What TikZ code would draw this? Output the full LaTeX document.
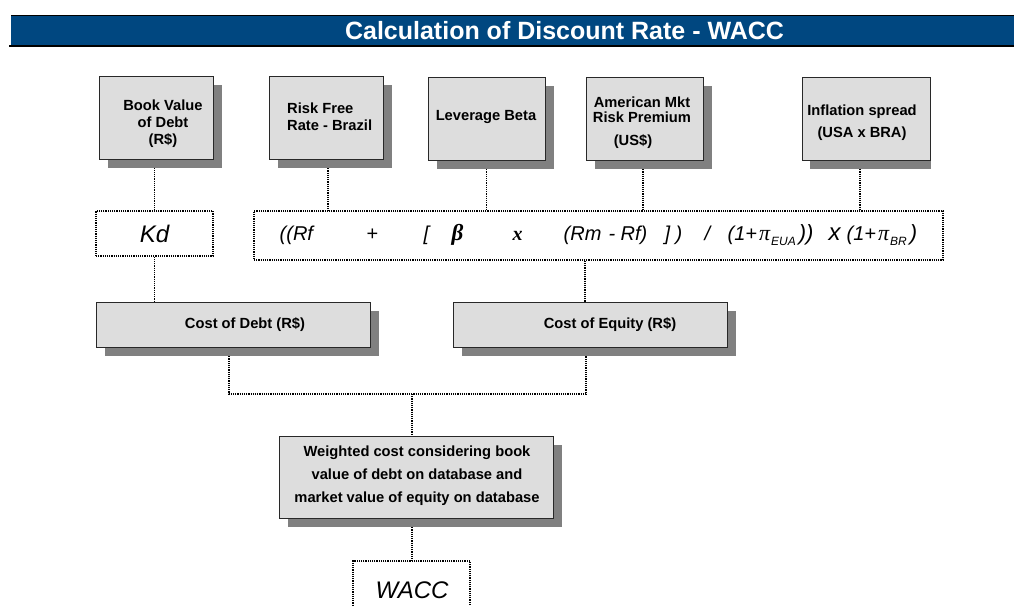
\documentclass[tikz,border=0pt]{standalone}
\usepackage{fontspec}
\setmainfont{Liberation Sans}
\newfontfamily\serifF{Liberation Serif}
\usetikzlibrary{shadows}
\pgfdeclarelayer{bg}
\pgfsetlayers{bg,main}
\definecolor{hdrblue}{RGB}{0,71,128}
\definecolor{boxfill}{RGB}{221,221,221}
\definecolor{boxline}{RGB}{40,40,40}
\definecolor{shadowgray}{RGB}{128,128,128}
\newcommand\fp[2]{\rlap{\hspace*{#1pt}#2}}
\tikzset{
  plainbox/.style={draw=boxline, fill=boxfill, line width=0.9pt, inner sep=0pt},
  box/.style={plainbox, drop shadow={shadow xshift=8.5pt, shadow yshift=-9pt, fill=shadowgray, opacity=1}},
  dotbox/.style={draw=black, line width=1.2pt, dash pattern=on 1.2pt off 1pt, inner sep=0pt},
  conn/.style={draw=black, line width=1.2pt, dash pattern=on 1.2pt off 1pt},
  lbl/.style={font=\fontsize{14.7}{17}\selectfont\bfseries, align=center, inner sep=0pt},
  ital/.style={font=\fontsize{24}{28}\selectfont\itshape, inner sep=0pt},
}
\begin{document}
\begin{tikzpicture}[x=1pt,y=-1pt]
\useasboundingbox (0,0) rectangle (1014,605);
\clip (0,0) rectangle (1014,605);

% header
\fill[hdrblue] (11,16) rectangle (1014,45);
\draw[line width=1pt] (11,15.5) -- (1014,15.5);
\draw[line width=2pt] (9,46) -- (1014,46);
\node[font=\fontsize{25}{30}\selectfont\bfseries, text=white, anchor=base, inner sep=0pt] (title) at (564.5,39.5) {Calculation of Discount Rate - WACC};

% top input boxes
\node[box, minimum width=114, minimum height=83] (bv) at (156,117.5) {};
\node[lbl] (bvt) at (163,124) {Book Value\\of Debt\\(R\$)};
\node[box, minimum width=114, minimum height=83] (rf) at (326,117.5) {};
\node[lbl, align=left, anchor=west] (rft) at (287,117) {Risk Free\\Rate - Brazil};
\node[box, minimum width=117, minimum height=83] (lb) at (486.5,118.5) {};
\node[lbl] (lbt) at (486,117) {Leverage Beta};
\node[box, minimum width=117, minimum height=83] (am) at (644.5,118.5) {};
\node[lbl, font=\fontsize{14.7}{15}\selectfont\bfseries] (amt) at (642,109.5) {American Mkt\\Risk Premium};
\node[lbl] (amu) at (633,142) {(US\$)};
\node[plainbox, minimum width=128, minimum height=83] (inf) at (866,118.5) {};
\node[lbl, font=\fontsize{14.7}{22}\selectfont\bfseries] (inft) at (862,123) {Inflation spread\\(USA x BRA)};

% second row
\node[dotbox, minimum width=117, minimum height=45, ital] (kd) at (154.5,233.5) {Kd};
\node[dotbox, minimum width=689, minimum height=49] (fm) at (598.5,235.5) {};
\node[anchor=base west, inner sep=0pt, font=\fontsize{20}{24}\selectfont\itshape] (fmt) at (279,240) {%
\fp{0}{((Rf}%
\fp{87}{\upshape +}%
\fp{144}{[}%
\fp{172}{{\serifF\bfseries\itshape\fontsize{23}{24}\selectfont β}}%
\fp{233}{{\serifF\bfseries\itshape x}}%
\fp{284}{(Rm\hspace{1.5pt} - Rf)}%
\fp{385}{]}%
\fp{396}{)}%
\fp{425}{/}%
\fp{448}{(1+\hspace{2pt}{\serifF\fontsize{22}{24}\selectfont π}\hspace{1pt}\raisebox{-5pt}{\fontsize{12}{14}\selectfont EUA}\hspace{3pt}{\fontsize{22}{24}\selectfont ))}}%
\fp{549}{{\fontsize{24}{28}\selectfont x}}%
\fp{567}{(1+\hspace{2pt}{\serifF\fontsize{22}{24}\selectfont π}\hspace{1pt}\raisebox{-5pt}{\fontsize{12}{14}\selectfont BR}\hspace{3pt}{\fontsize{22}{24}\selectfont )}}%
};

% third row
\node[box, minimum width=274, minimum height=45] (cod) at (233,324.5) {};
\node[lbl] (codt) at (245,325) {Cost of Debt (R\$)};
\node[box, minimum width=274, minimum height=45] (coe) at (590,324.5) {};
\node[lbl] (coet) at (610,325) {Cost of Equity (R\$)};

% weighted
\node[box, minimum width=274, minimum height=82] (wc) at (416,477) {};
\node[lbl, font=\fontsize{14.7}{23}\selectfont\bfseries] (wct) at (417,476) {Weighted cost considering book\\value of debt on database and\\market value of equity on database};

% WACC
\node[dotbox, minimum width=117, minimum height=70] (wacc) at (411.5,596) {};
\node[ital] (wacct) at (412,590) {WACC};

\coordinate (jn) at (412,394);

\begin{pgfonlayer}{bg}
\draw[conn] (kd.north) -- (kd.north |- bv.south);
\draw[conn] ([xshift=2pt]rf.south) -- ([xshift=2pt]rf.south |- fm.north);
\draw[conn] (lb.south) -- (lb.south |- fm.north);
\draw[conn] ([xshift=-1.5pt]am.south) -- ([xshift=-1.5pt]am.south |- fm.north);
\draw[conn] ([xshift=-6pt]inf.south) -- ([xshift=-6pt]inf.south |- fm.north);
\fill[shadowgray] ([xshift=8pt,yshift=-8.5pt]inf.north west) rectangle ([xshift=1pt,yshift=-8.5pt]inf.south east);
\draw[conn] (kd.south) -- (kd.south |- cod.north);
\draw[conn] ([xshift=-5pt]coe.north) -- ([xshift=-5pt]coe.north |- fm.south);
\draw[conn] ([xshift=-4pt]cod.south) |- ([xshift=-4pt]coe.south |- jn) -- ([xshift=-4pt]coe.south);
\draw[conn] (jn) -- (jn |- wc.north);
\draw[conn] (wc.south -| jn) -- (wacc.north -| jn);
\end{pgfonlayer}
\end{tikzpicture}
\end{document}
